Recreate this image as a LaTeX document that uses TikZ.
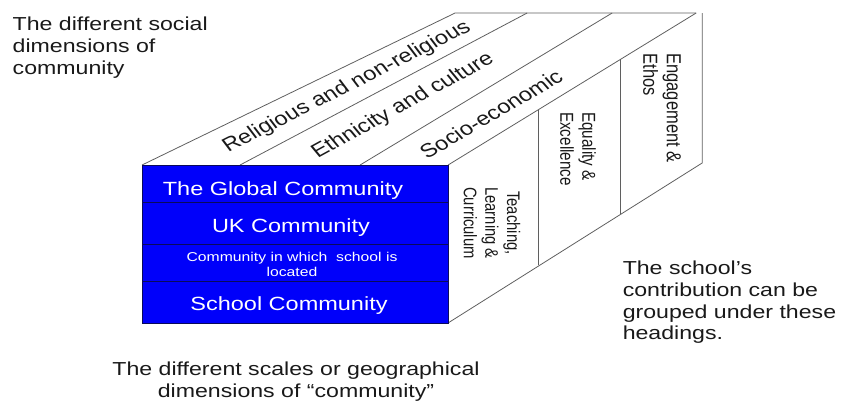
\documentclass[tikz,border=0pt]{standalone}
\usepackage{fontspec}
\setmainfont{Liberation Sans}
\definecolor{boxblue}{RGB}{0,0,250}
\definecolor{rowline}{RGB}{10,10,90}
\definecolor{edgegray}{RGB}{95,95,95}
\definecolor{txt}{RGB}{25,25,25}
\begin{document}
\begin{tikzpicture}[x=0.813008pt, y=-1pt, xscale=1.23, transform shape,
  edge/.style={draw=edgegray, line width=0.8pt},
  lbl/.style={inner sep=0pt, text=txt},
  bigtxt/.style={font=\fontsize{18.8}{21.6}\selectfont},
  toptxt/.style={lbl, font=\fontsize{19.3}{22}\selectfont},
  rowtxt/.style={inner sep=0pt, text=white, font=\fontsize{19.1}{22}\selectfont},
  smalltxt/.style={inner sep=0pt, text=white, font=\fontsize{12.8}{15}\selectfont},
  sidetxt/.style={lbl, rotate=-90}]
\useasboundingbox (0,0) rectangle (842,402);

% corners of the box
\coordinate (fTL) at (142,165);
\coordinate (fBR) at (448,323);
\coordinate (fTR) at (448,165);
\coordinate (bTL) at (455,13);
\coordinate (bTR) at (696,13);
\coordinate (rTop) at (702,13);
\coordinate (rBot) at (702,163);
\coordinate (a1) at (240,165);
\coordinate (a2) at (527,13);
\coordinate (b1) at (360,165);
\coordinate (b2) at (612,13);
\coordinate (d1t) at (538,110);
\coordinate (d1b) at (538,265);
\coordinate (d2t) at (620,59);
\coordinate (d2b) at (620,214);

% top face
\draw[edge] (fTL) -- (bTL) -- (bTR);
\draw[edge] (a1) -- (a2);
\draw[edge] (b1) -- (b2);
\draw[edge] (fTR) -- (bTR);
% right face
\draw[edge] (rTop) -- (rBot) -- (448,323);
\draw[edge] (d1t) -- (d1b);
\draw[edge] (d2t) -- (d2b);

% front face
\fill[boxblue] (fTL) rectangle (fBR);
\draw[rowline, line width=0.8pt] (fTL) rectangle (fBR);
\draw[rowline, line width=0.8pt] (142,202) -- (448,202);
\draw[rowline, line width=0.8pt] (142,244) -- (448,244);
\draw[rowline, line width=0.8pt] (142,281) -- (448,281);

\node[rowtxt, anchor=base] (global) at (283,195) {The Global Community};
\node[rowtxt, anchor=base] (uk) at (291,232.5) {UK Community};
\node[smalltxt, anchor=north, align=center] (local) at (292,252.3) {Community in which\ \ school is\\located};
\node[rowtxt, anchor=base] (school) at (289,310.5) {School Community};

% top face labels
\node[toptxt, rotate=31.7] (relig) at (347,87) {Religious and non-religious};
\node[toptxt, rotate=34] (ethnic) at (403,106) {Ethnicity and culture};
\node[toptxt, rotate=35.5] (socio) at (491,114) {Socio-economic};

% side face labels
\node[sidetxt, align=center, font=\fontsize{14.8}{17.6}\selectfont] (teach) at (492,223) {Teaching,\\Learning \&\\Curriculum};
\node[sidetxt, align=left, font=\fontsize{15.2}{17.9}\selectfont] (equal) at (578,149) {Equality \&\\Excellence};
\node[sidetxt, align=left, font=\fontsize{16.5}{19}\selectfont] (engage) at (662,108) {Engagement \&\\Ethos};

% free captions
\node[lbl, bigtxt, anchor=north west, align=left] (social) at (12.5,17) {The different social\\dimensions of\\community};
\node[lbl, bigtxt, anchor=north west, align=left] (contrib) at (622.5,261) {The school’s\\contribution can be\\grouped under these\\headings.};
\node[lbl, bigtxt, anchor=north, align=center] (scales) at (296,362) {The different scales or geographical\\dimensions of “community”};
\end{tikzpicture}
\end{document}
